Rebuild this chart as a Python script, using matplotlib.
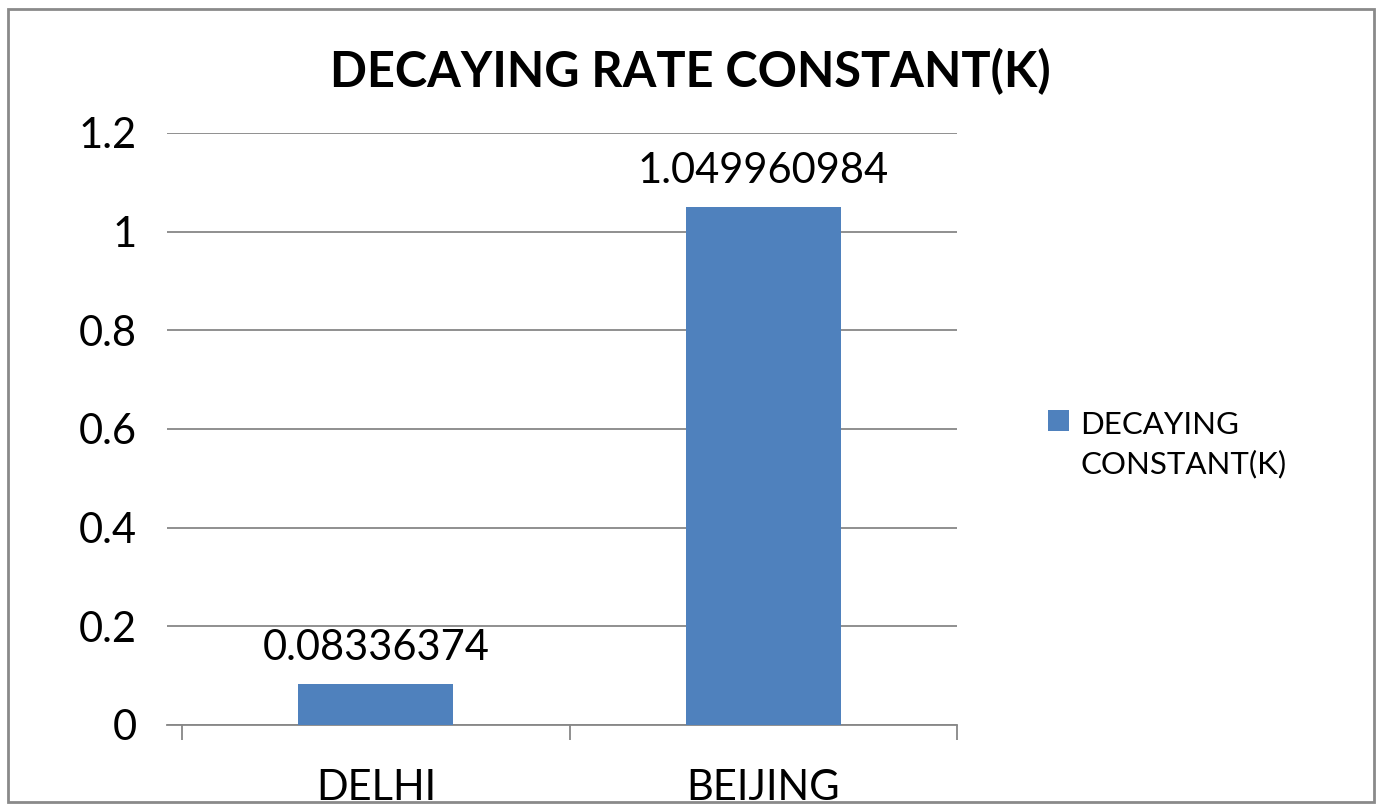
import matplotlib.pyplot as plt
from matplotlib.patches import Rectangle
import numpy as np

# data
cities = ['DELHI', 'BEIJING']
k_values = [0.08336374, 1.049960984]
k_labels = ['0.08336374', '1.049960984']
series_name = 'DECAYING\nCONSTANT(K)'

plt.rcParams['font.family'] = ['Lato', 'DejaVu Sans']

bar_color = '#4F81BD'
grid_color = '#878787'
W, H = 1381, 806

fig = plt.figure(figsize=(13.81, 8.06), dpi=100)
ax = fig.add_axes([167 / W, 1 - 725 / H, (957 - 167) / W, (725 - 133) / H])

x = np.arange(len(cities))
bars = ax.bar(x, k_values, width=0.4, color=bar_color, zorder=3)

# value labels above the bars
for xi, v, lab in zip(x, k_values, k_labels):
    ax.annotate(lab, (xi, v), xytext=(0, 12), textcoords='offset points',
                ha='center', va='bottom', fontsize=30, color='black')

ax.set_xlim(-0.539, 1.5)
ax.set_ylim(0, 1.2)
ax.set_yticks(np.arange(0, 1.21, 0.2))
ax.set_yticklabels(['0', '0.2', '0.4', '0.6', '0.8', '1', '1.2'], fontsize=30)
ax.yaxis.grid(True, color=grid_color, linewidth=1.3, zorder=0)
ax.tick_params(axis='y', length=0, pad=22)

ax.set_xticks(x)
ax.set_xticklabels(cities, fontsize=30)
ax.tick_params(axis='x', which='major', length=0, pad=32)
ax.set_xticks([-0.5, 0.5, 1.5], minor=True)
ax.tick_params(axis='x', which='minor', length=11, width=1.3, color=grid_color, direction='out')
for t in ax.get_xticklabels():
    t.set_clip_on(False)

for s in ['left', 'right', 'top']:
    ax.spines[s].set_visible(False)
ax.spines['bottom'].set_color(grid_color)
ax.spines['bottom'].set_linewidth(1.3)

fig.text(0.5, 1 - 72 / H, 'DECAYING RATE CONSTANT(K)', ha='center', va='center',
         fontsize=35, fontweight='bold')

# legend: colour key next to the first line of the series name
fig.patches.append(Rectangle((1048 / W, 1 - 431 / H), 21 / W, 21 / H,
                             transform=fig.transFigure, facecolor=bar_color,
                             edgecolor='none'))
fig.text(1080 / W, 1 - 411 / H, series_name, ha='left', va='top',
         fontsize=22.5, linespacing=1.45)

# chart border
fig.patches.append(Rectangle((8 / W, 4 / H), (1374 - 8) / W, (797 - 4) / H,
                             transform=fig.transFigure, fill=False,
                             edgecolor='#8a8a8a', linewidth=2, zorder=0))

fig.savefig('out.png', dpi=100)
